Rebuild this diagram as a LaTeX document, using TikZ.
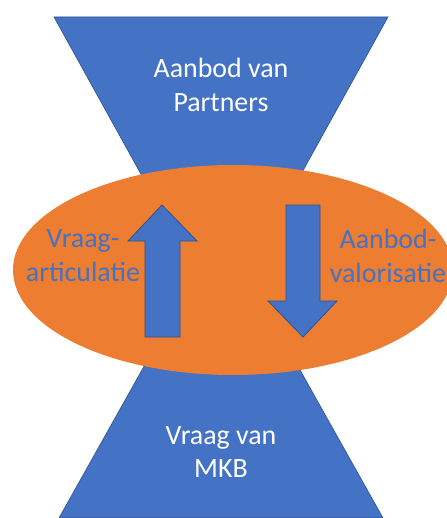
\documentclass[tikz,border=0pt]{standalone}
\usepackage{fontspec}
\setmainfont{Carlito}
\usepackage{tikz}
\usetikzlibrary{positioning}
\definecolor{vmblue}{RGB}{68,114,196}
\definecolor{vmdarkblue}{RGB}{47,82,143}
\definecolor{vmorange}{RGB}{237,125,49}
\tikzstyle{funnel} = [fill=vmblue, draw=vmdarkblue, line width=0.6pt]
\tikzstyle{flow} = [fill=vmblue, draw=vmdarkblue, line width=0.8pt, line join=miter]
\tikzstyle{label} = [align=center, inner sep=0pt, font=\fontsize{28}{34}\selectfont]

\begin{document}
\begin{tikzpicture}[x=1bp, y=-1bp]
\useasboundingbox (0,0) rectangle (447,518);
\clip (0,0) rectangle (447,518);
% Funnels top and bottom
\draw[funnel] (54,17) -- (388,17) -- (248,270) -- (194,270) -- cycle;
\draw[funnel] (59,518) -- (383,518) -- (244,270) -- (198,270) -- cycle;

% Central ellipse
\fill[vmorange] (233,270) ellipse [x radius=220, y radius=105];

% Up and down arrows
\draw[flow] (145,337) -- (145,241) -- (128,241) -- (162,205) -- (197,241)
  -- (180,241) -- (180,337) -- cycle;
\draw[flow] (286,205) -- (286,301) -- (268,301) -- (303,337) -- (337,301)
  -- (320,301) -- (320,205) -- cycle;

% Labels
\node[label, text=white] (partners) at (221,85) {Aanbod van\\Partners};
\node[label, text=white] (mkb) at (221,452) {Vraag van\\MKB};
\node[label, text=vmblue] (vraag) at (83,256) {Vraag-\\articulatie};
\node[label, text=vmblue] (aanbod) at (388,256) {Aanbod-\\valorisatie};
\end{tikzpicture}
\end{document}
